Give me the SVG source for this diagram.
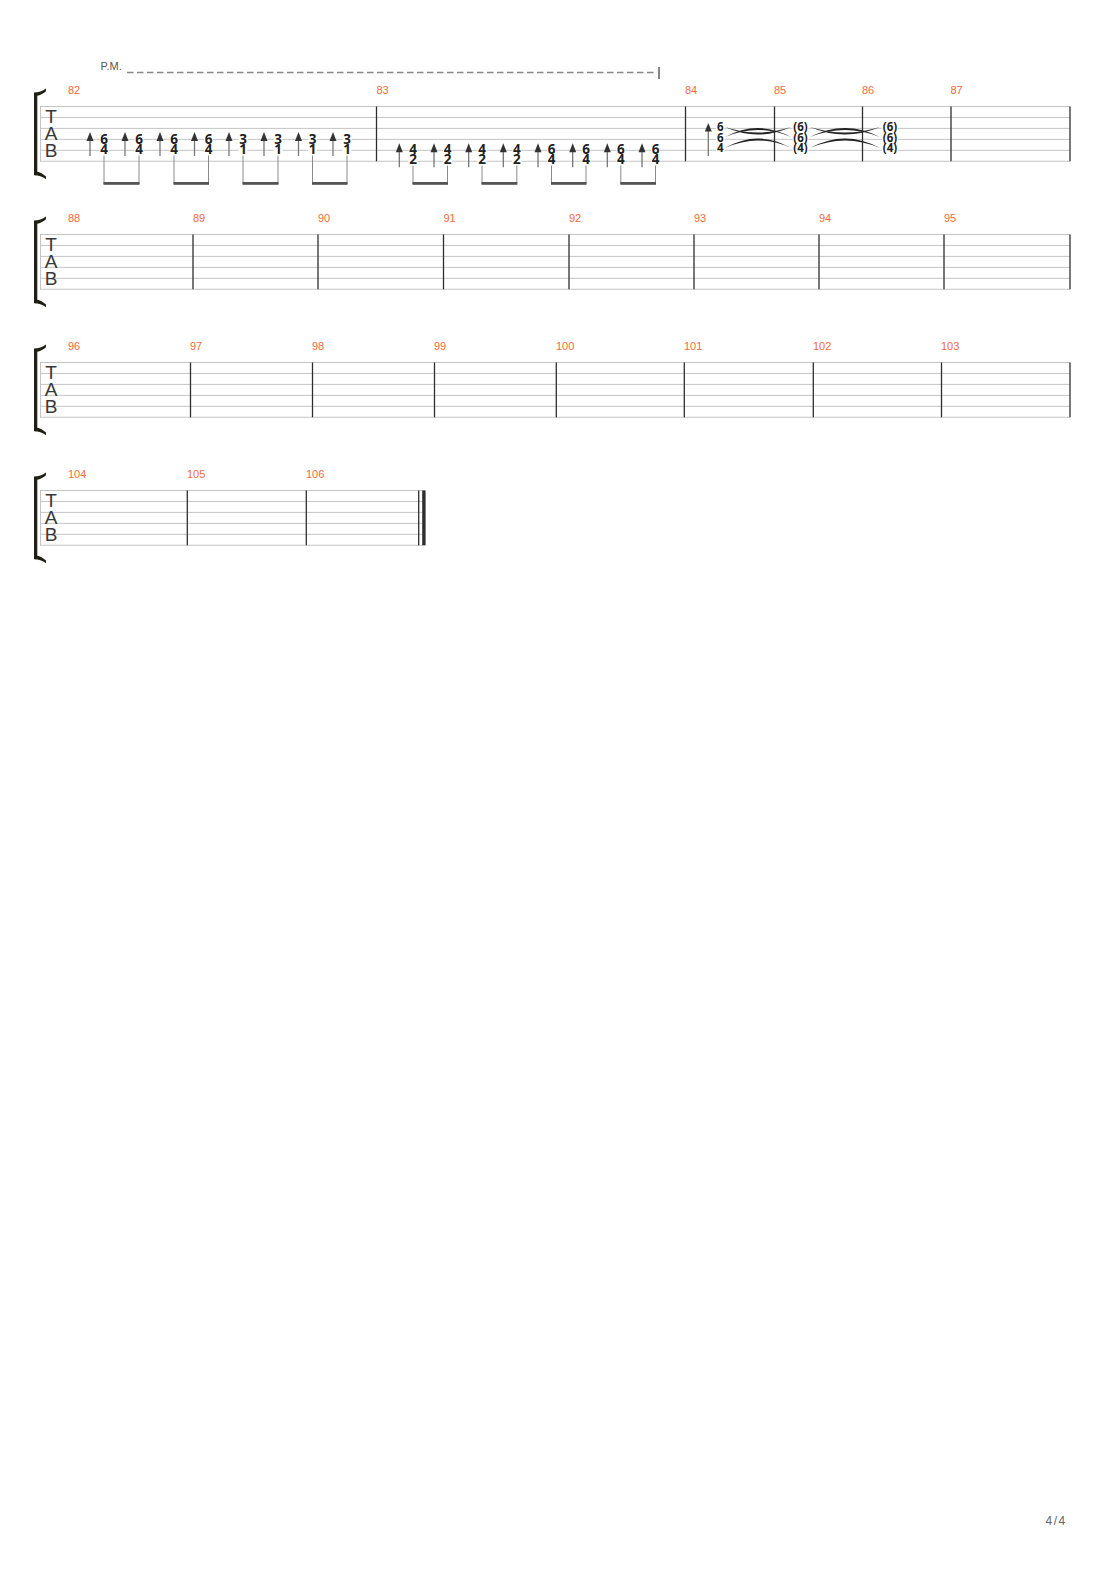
<svg xmlns="http://www.w3.org/2000/svg" width="1110" height="1570" viewBox="0 0 1110 1570">
<style>
.sl{stroke:#c4c4c4;stroke-width:1;fill:none}
.edge{stroke:#c4c4c4;stroke-width:1}
.bar{stroke:#2e2e2e;stroke-width:1.3}
.brk{fill:#1f1f16}
.bn{font-family:'Liberation Sans',Arial,sans-serif;font-size:11px;fill:#f26a3d}
.tab{font-family:'Liberation Sans',Arial,sans-serif;font-size:19px;fill:#383838;text-anchor:middle}
.fr{font-family:'Open Sans','Noto Sans',sans-serif;font-weight:700;font-size:13.5px;fill:#222;text-anchor:middle}
.frs{font-family:'Open Sans','Noto Sans',sans-serif;font-weight:700;font-size:11.5px;fill:#222;text-anchor:middle}
.bg{fill:#fff}
.stem{stroke:#777;stroke-width:1.3}
.head{fill:#333}
.bstem{stroke:#8a8a8a;stroke-width:1}
.beam{fill:#555}
.tie{fill:#222}
.pm{font-family:'Liberation Sans',Arial,sans-serif;font-size:11px;fill:#555}
.page{font-family:'Liberation Sans',Arial,sans-serif;font-size:12px;fill:#666;letter-spacing:1.5px}
</style>
<defs>
<path id="bracket" class="brk" d="M34,92.5 C38.5,92.5 42.5,91 46,88.5 L46,91.2 C43,93.8 40,95.3 37.3,95.8 L37.3,171.7 C40,172.2 43,173.7 46,176.5 L46,179.2 C42.5,176.7 38.5,175.2 34,175.2 Z"/>
<text id="tabclef" class="tab"><tspan x="51" y="123">T</tspan><tspan x="51" y="140">A</tspan><tspan x="51" y="156.5">B</tspan></text>
<g id="lines-full">
<line class="sl" x1="40" y1="106.5" x2="1070" y2="106.5"/>
<line class="sl" x1="40" y1="117.45" x2="1070" y2="117.45"/>
<line class="sl" x1="40" y1="128.4" x2="1070" y2="128.4"/>
<line class="sl" x1="40" y1="139.35" x2="1070" y2="139.35"/>
<line class="sl" x1="40" y1="150.3" x2="1070" y2="150.3"/>
<line class="sl" x1="40" y1="161.25" x2="1070" y2="161.25"/>
<line class="edge" x1="40.5" y1="106.5" x2="40.5" y2="161.25"/>
</g>
</defs>

<!-- Palm mute -->
<g id="palm-mute">
<text class="pm" x="100.5" y="70">P.M.</text>
<line x1="127" y1="72.5" x2="656" y2="72.5" stroke="#888" stroke-width="1.3" stroke-dasharray="6.5 3.5"/>
<line x1="659" y1="67" x2="659" y2="79" stroke="#333" stroke-width="1.2"/>
</g>

<!-- System 1 -->
<g id="system-1">
<use href="#lines-full"/>
<use href="#bracket"/>
<use href="#tabclef"/>
<line class="bar" x1="376.5" y1="106.5" x2="376.5" y2="161.25"/>
<line class="bar" x1="685.5" y1="106.5" x2="685.5" y2="161.25"/>
<line class="bar" x1="774.5" y1="106.5" x2="774.5" y2="161.25"/>
<line class="bar" x1="862.5" y1="106.5" x2="862.5" y2="161.25"/>
<line class="bar" x1="951" y1="106.5" x2="951" y2="161.25"/>
<line class="bar" x1="1070" y1="106.5" x2="1070" y2="161.25"/>
<text class="bn" x="68" y="94">82</text>
<text class="bn" x="376.5" y="94">83</text>
<text class="bn" x="685" y="94">84</text>
<text class="bn" x="774" y="94">85</text>
<text class="bn" x="862" y="94">86</text>
<text class="bn" x="950.5" y="94">87</text>
</g>

<!-- Measure 82 notes -->
<g id="m82-notes">
<g id="m82-strokes">
<line class="stem" x1="90" y1="139" x2="90" y2="156"/><path class="head" d="M90,132 L93.5,141 L86.5,141 Z"/>
<line class="stem" x1="125" y1="139" x2="125" y2="156"/><path class="head" d="M125,132 L128.5,141 L121.5,141 Z"/>
<line class="stem" x1="160" y1="139" x2="160" y2="156"/><path class="head" d="M160,132 L163.5,141 L156.5,141 Z"/>
<line class="stem" x1="194.5" y1="139" x2="194.5" y2="156"/><path class="head" d="M194.5,132 L198,141 L191,141 Z"/>
<line class="stem" x1="229" y1="139" x2="229" y2="156"/><path class="head" d="M229,132 L232.5,141 L225.5,141 Z"/>
<line class="stem" x1="264" y1="139" x2="264" y2="156"/><path class="head" d="M264,132 L267.5,141 L260.5,141 Z"/>
<line class="stem" x1="298.5" y1="139" x2="298.5" y2="156"/><path class="head" d="M298.5,132 L302,141 L295,141 Z"/>
<line class="stem" x1="333" y1="139" x2="333" y2="156"/><path class="head" d="M333,132 L336.5,141 L329.5,141 Z"/>
</g>
<g id="m82-frets">
<rect class="bg" x="99.5" y="134" width="9" height="20.5"/>
<rect class="bg" x="134.5" y="134" width="9" height="20.5"/>
<rect class="bg" x="169.5" y="134" width="9" height="20.5"/>
<rect class="bg" x="204" y="134" width="9" height="20.5"/>
<rect class="bg" x="238.5" y="134" width="9" height="20.5"/>
<rect class="bg" x="273.5" y="134" width="9" height="20.5"/>
<rect class="bg" x="308" y="134" width="9" height="20.5"/>
<rect class="bg" x="342.5" y="134" width="9" height="20.5"/>
<text class="fr"><tspan x="104" y="144">6</tspan><tspan x="104" y="154.3">4</tspan></text>
<text class="fr"><tspan x="139" y="144">6</tspan><tspan x="139" y="154.3">4</tspan></text>
<text class="fr"><tspan x="174" y="144">6</tspan><tspan x="174" y="154.3">4</tspan></text>
<text class="fr"><tspan x="208.5" y="144">6</tspan><tspan x="208.5" y="154.3">4</tspan></text>
<text class="fr"><tspan x="243" y="144">3</tspan><tspan x="243" y="154.3">1</tspan></text>
<text class="fr"><tspan x="278" y="144">3</tspan><tspan x="278" y="154.3">1</tspan></text>
<text class="fr"><tspan x="312.5" y="144">3</tspan><tspan x="312.5" y="154.3">1</tspan></text>
<text class="fr"><tspan x="347" y="144">3</tspan><tspan x="347" y="154.3">1</tspan></text>
</g>
</g>

<!-- Measure 83 notes -->
<g id="m83-notes">
<g id="m83-strokes">
<line class="stem" x1="399.3" y1="150.3" x2="399.3" y2="167.3"/><path class="head" d="M399.3,143.3 L402.8,152.3 L395.8,152.3 Z"/>
<line class="stem" x1="434" y1="150.3" x2="434" y2="167.3"/><path class="head" d="M434,143.3 L437.5,152.3 L430.5,152.3 Z"/>
<line class="stem" x1="468.7" y1="150.3" x2="468.7" y2="167.3"/><path class="head" d="M468.7,143.3 L472.2,152.3 L465.2,152.3 Z"/>
<line class="stem" x1="503.3" y1="150.3" x2="503.3" y2="167.3"/><path class="head" d="M503.3,143.3 L506.8,152.3 L499.8,152.3 Z"/>
<line class="stem" x1="538" y1="150.3" x2="538" y2="167.3"/><path class="head" d="M538,143.3 L541.5,152.3 L534.5,152.3 Z"/>
<line class="stem" x1="572.7" y1="150.3" x2="572.7" y2="167.3"/><path class="head" d="M572.7,143.3 L576.2,152.3 L569.2,152.3 Z"/>
<line class="stem" x1="607.3" y1="150.3" x2="607.3" y2="167.3"/><path class="head" d="M607.3,143.3 L610.8,152.3 L603.8,152.3 Z"/>
<line class="stem" x1="642" y1="150.3" x2="642" y2="167.3"/><path class="head" d="M642,143.3 L645.5,152.3 L638.5,152.3 Z"/>
</g>
<g id="m83-frets">
<rect class="bg" x="408.5" y="144" width="9" height="20.5"/>
<rect class="bg" x="443" y="144" width="9" height="20.5"/>
<rect class="bg" x="477.5" y="144" width="9" height="20.5"/>
<rect class="bg" x="512.3" y="144" width="9" height="20.5"/>
<rect class="bg" x="547" y="144" width="9" height="20.5"/>
<rect class="bg" x="581.5" y="144" width="9" height="20.5"/>
<rect class="bg" x="616.3" y="144" width="9" height="20.5"/>
<rect class="bg" x="651" y="144" width="9" height="20.5"/>
<text class="fr"><tspan x="413" y="153.5">4</tspan><tspan x="413" y="164">2</tspan></text>
<text class="fr"><tspan x="447.5" y="153.5">4</tspan><tspan x="447.5" y="164">2</tspan></text>
<text class="fr"><tspan x="482" y="153.5">4</tspan><tspan x="482" y="164">2</tspan></text>
<text class="fr"><tspan x="516.8" y="153.5">4</tspan><tspan x="516.8" y="164">2</tspan></text>
<text class="fr"><tspan x="551.5" y="153.5">6</tspan><tspan x="551.5" y="164">4</tspan></text>
<text class="fr"><tspan x="586" y="153.5">6</tspan><tspan x="586" y="164">4</tspan></text>
<text class="fr"><tspan x="620.8" y="153.5">6</tspan><tspan x="620.8" y="164">4</tspan></text>
<text class="fr"><tspan x="655.5" y="153.5">6</tspan><tspan x="655.5" y="164">4</tspan></text>
</g>
</g>

<!-- Measures 84-86 chord -->
<g id="m84-notes">
<line class="stem" x1="708.3" y1="130" x2="708.3" y2="156"/><path class="head" d="M708.3,123 L711.8,131.5 L704.8,131.5 Z"/>
<rect class="bg" x="716" y="122.5" width="8.5" height="30"/>
<text class="frs"><tspan x="720.3" y="131.3">6</tspan><tspan x="720.3" y="141.5">6</tspan><tspan x="720.3" y="152">4</tspan></text>
</g>
<g id="m85-notes">
<rect class="bg" x="792.5" y="122.5" width="16" height="30"/>
<text class="frs"><tspan x="800.5" y="131.3">(6)</tspan><tspan x="800.5" y="141.5">(6)</tspan><tspan x="800.5" y="152">(4)</tspan></text>
</g>
<g id="m86-notes">
<rect class="bg" x="882" y="122.5" width="16" height="30"/>
<text class="frs"><tspan x="890" y="131.3">(6)</tspan><tspan x="890" y="141.5">(6)</tspan><tspan x="890" y="152">(4)</tspan></text>
</g>

<!-- Systems 2-4 -->
<g id="system-2" transform="translate(0,128)">
<use href="#lines-full"/>
<use href="#bracket"/>
<use href="#tabclef"/>
<line class="bar" x1="193" y1="106.5" x2="193" y2="161.25"/>
<line class="bar" x1="318" y1="106.5" x2="318" y2="161.25"/>
<line class="bar" x1="443.5" y1="106.5" x2="443.5" y2="161.25"/>
<line class="bar" x1="569" y1="106.5" x2="569" y2="161.25"/>
<line class="bar" x1="694" y1="106.5" x2="694" y2="161.25"/>
<line class="bar" x1="819" y1="106.5" x2="819" y2="161.25"/>
<line class="bar" x1="944" y1="106.5" x2="944" y2="161.25"/>
<line class="bar" x1="1070" y1="106.5" x2="1070" y2="161.25"/>
<text class="bn" x="68" y="94">88</text>
<text class="bn" x="193" y="94">89</text>
<text class="bn" x="318" y="94">90</text>
<text class="bn" x="443.5" y="94">91</text>
<text class="bn" x="569" y="94">92</text>
<text class="bn" x="694" y="94">93</text>
<text class="bn" x="819" y="94">94</text>
<text class="bn" x="944" y="94">95</text>
</g>

<g id="system-3" transform="translate(0,256)">
<use href="#lines-full"/>
<use href="#bracket"/>
<use href="#tabclef"/>
<line class="bar" x1="190.5" y1="106.5" x2="190.5" y2="161.25"/>
<line class="bar" x1="312.5" y1="106.5" x2="312.5" y2="161.25"/>
<line class="bar" x1="434.5" y1="106.5" x2="434.5" y2="161.25"/>
<line class="bar" x1="556.3" y1="106.5" x2="556.3" y2="161.25"/>
<line class="bar" x1="684.3" y1="106.5" x2="684.3" y2="161.25"/>
<line class="bar" x1="813.3" y1="106.5" x2="813.3" y2="161.25"/>
<line class="bar" x1="941.5" y1="106.5" x2="941.5" y2="161.25"/>
<line class="bar" x1="1070" y1="106.5" x2="1070" y2="161.25"/>
<text class="bn" x="68" y="94">96</text>
<text class="bn" x="190" y="94">97</text>
<text class="bn" x="312" y="94">98</text>
<text class="bn" x="434" y="94">99</text>
<text class="bn" x="556" y="94">100</text>
<text class="bn" x="684" y="94">101</text>
<text class="bn" x="813" y="94">102</text>
<text class="bn" x="941" y="94">103</text>
</g>

<g id="system-4" transform="translate(0,384)">
<line class="sl" x1="40" y1="106.5" x2="425" y2="106.5"/>
<line class="sl" x1="40" y1="117.45" x2="425" y2="117.45"/>
<line class="sl" x1="40" y1="128.4" x2="425" y2="128.4"/>
<line class="sl" x1="40" y1="139.35" x2="425" y2="139.35"/>
<line class="sl" x1="40" y1="150.3" x2="425" y2="150.3"/>
<line class="sl" x1="40" y1="161.25" x2="425" y2="161.25"/>
<line class="edge" x1="40.5" y1="106.5" x2="40.5" y2="161.25"/>
<use href="#bracket"/>
<use href="#tabclef"/>
<line class="bar" x1="187.3" y1="106.5" x2="187.3" y2="161.25"/>
<line class="bar" x1="306.3" y1="106.5" x2="306.3" y2="161.25"/>
<line class="bar" x1="418.7" y1="106.5" x2="418.7" y2="161.25" stroke-width="1"/>
<rect x="422.2" y="106.5" width="3.4" height="54.75" fill="#2e2e2e"/>
<text class="bn" x="68" y="94">104</text>
<text class="bn" x="187" y="94">105</text>
<text class="bn" x="306" y="94">106</text>
</g>

<!-- Connectors: beams and ties -->
<g id="connectors">
<g id="beams-m82">
<line class="bstem" x1="104" y1="155.5" x2="104" y2="184"/><line class="bstem" x1="139" y1="155.5" x2="139" y2="184"/><rect class="beam" x="103.5" y="182" width="36" height="2.8"/>
<line class="bstem" x1="174" y1="155.5" x2="174" y2="184"/><line class="bstem" x1="208.5" y1="155.5" x2="208.5" y2="184"/><rect class="beam" x="173.5" y="182" width="35.5" height="2.8"/>
<line class="bstem" x1="243" y1="155.5" x2="243" y2="184"/><line class="bstem" x1="278" y1="155.5" x2="278" y2="184"/><rect class="beam" x="242.5" y="182" width="36" height="2.8"/>
<line class="bstem" x1="312.5" y1="155.5" x2="312.5" y2="184"/><line class="bstem" x1="347" y1="155.5" x2="347" y2="184"/><rect class="beam" x="312" y="182" width="35.5" height="2.8"/>
</g>
<g id="beams-m83">
<line class="bstem" x1="413" y1="165.5" x2="413" y2="184"/><line class="bstem" x1="447.5" y1="165.5" x2="447.5" y2="184"/><rect class="beam" x="412.5" y="182" width="35.5" height="2.8"/>
<line class="bstem" x1="482" y1="165.5" x2="482" y2="184"/><line class="bstem" x1="516.8" y1="165.5" x2="516.8" y2="184"/><rect class="beam" x="481.5" y="182" width="35.8" height="2.8"/>
<line class="bstem" x1="551.5" y1="165.5" x2="551.5" y2="184"/><line class="bstem" x1="586" y1="165.5" x2="586" y2="184"/><rect class="beam" x="551" y="182" width="35.5" height="2.8"/>
<line class="bstem" x1="620.8" y1="165.5" x2="620.8" y2="184"/><line class="bstem" x1="655.5" y1="165.5" x2="655.5" y2="184"/><rect class="beam" x="620.3" y="182" width="35.7" height="2.8"/>
</g>
<g id="ties-84-85">
<path class="tie" d="M725,127 Q758,142 791,127 Q758,138 725,127 Z"/>
<path class="tie" d="M725,137 Q758,119 791,137 Q758,123 725,137 Z"/>
<path class="tie" d="M725,148 Q758,129 791,148 Q758,133 725,148 Z"/>
</g>
<g id="ties-85-86">
<path class="tie" d="M810,127 Q845,142 880,127 Q845,138 810,127 Z"/>
<path class="tie" d="M810,137 Q845,119 880,137 Q845,123 810,137 Z"/>
<path class="tie" d="M810,148 Q845,129 880,148 Q845,133 810,148 Z"/>
</g>
</g>

<text class="page" x="1045.5" y="1525">4/4</text>
</svg>
